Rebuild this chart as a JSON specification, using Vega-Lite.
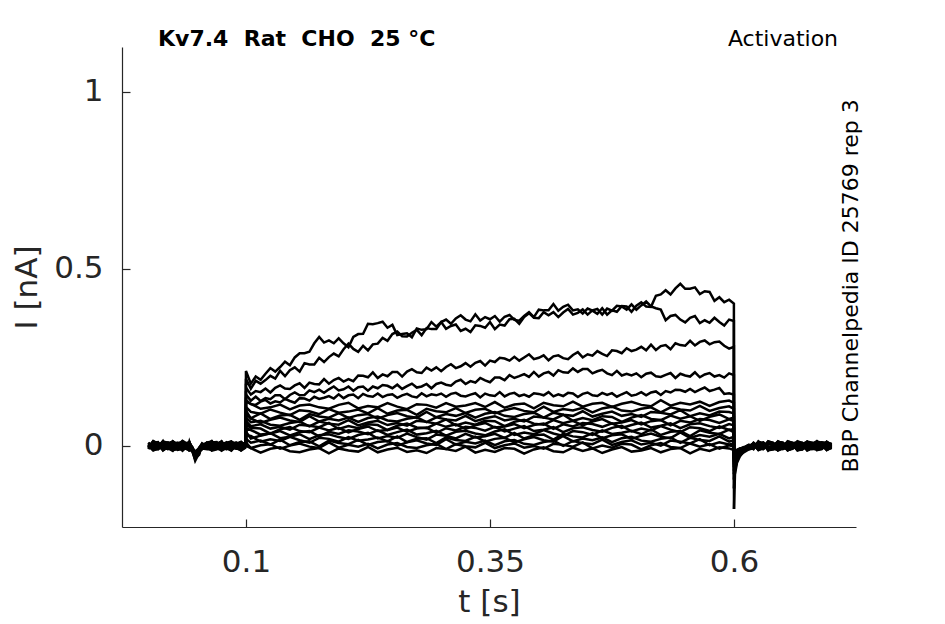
{
  "$schema": "https://vega.github.io/schema/vega-lite/v6.json",
  "width": 734,
  "height": 480,
  "autosize": {"type": "none"},
  "padding": {"left": 122, "top": 47, "right": 89, "bottom": 97},
  "background": "white",
  "datasets": {
    "pre": [
      {"t":0,"a":0.003,"b":-0.005,"c":0.008,"d":-0.002,"e":0,"f":0.006,"g":-0.009,"h":0.004,"i":-0.003,"j":0.01,"k":-0.006,"l":0.002,"m":-0.001,"n":0.007,"o":-0.008,"p":0.005,"q":-0.004,"r":0.001},
      {"t":0.005,"a":-0.009,"b":0.012,"c":-0.004,"d":0.007,"e":-0.013,"f":0.003,"g":0.01,"h":-0.006,"i":0.014,"j":-0.008,"k":0.005,"l":-0.011,"m":0.009,"n":-0.002,"o":0.013,"p":-0.01,"q":0.006,"r":-0.007},
      {"t":0.01,"a":-0.006,"b":0.004,"c":-0.002,"d":0.009,"e":-0.007,"f":0.001,"g":0.005,"h":-0.01,"i":0.007,"j":-0.003,"k":0.002,"l":-0.008,"m":0.011,"n":-0.005,"o":0.003,"p":-0.001,"q":0.008,"r":-0.006},
      {"t":0.015,"a":0.011,"b":-0.007,"c":0.013,"d":-0.01,"e":0.005,"f":-0.012,"g":0.008,"h":0.002,"i":-0.009,"j":0.014,"k":-0.004,"l":0.009,"m":-0.013,"n":0.006,"o":-0.001,"p":0.012,"q":-0.008,"r":0.01},
      {"t":0.02,"a":0.007,"b":-0.008,"c":0.003,"d":-0.004,"e":0.01,"f":-0.002,"g":-0.006,"h":0.005,"i":0,"j":-0.009,"k":0.008,"l":0.004,"m":-0.003,"n":0.001,"o":-0.007,"p":0.009,"q":-0.005,"r":0.002},
      {"t":0.025,"a":-0.01,"b":0.005,"c":-0.012,"d":0.013,"e":-0.003,"f":0.009,"g":-0.014,"h":0.011,"i":0.004,"j":-0.007,"k":0.012,"l":-0.005,"m":0.008,"n":-0.011,"o":0.006,"p":-0.002,"q":0.013,"r":-0.009},
      {"t":0.03,"a":-0.003,"b":0.006,"c":-0.009,"d":0.002,"e":-0.004,"f":0.008,"g":0.003,"h":-0.001,"i":-0.007,"j":0.005,"k":-0.011,"l":0.007,"m":0,"n":-0.006,"o":0.009,"p":-0.002,"q":0.004,"r":-0.008},
      {"t":0.035,"a":0.012,"b":-0.011,"c":0.006,"d":-0.005,"e":0.014,"f":-0.007,"g":0.004,"h":-0.013,"i":0.01,"j":0.002,"k":-0.009,"l":0.013,"m":-0.006,"n":0.011,"o":-0.012,"p":0.007,"q":-0.003,"r":0.008},
      {"t":0.04,"a":0.002,"b":-0.001,"c":0.005,"d":-0.007,"e":0.006,"f":-0.009,"g":0.001,"h":0.008,"i":-0.004,"j":0.003,"k":-0.002,"l":-0.006,"m":0.009,"n":0.004,"o":-0.003,"p":-0.01,"q":0.006,"r":0},
      {"t":0.042,"a":-0.007,"b":0.01,"c":-0.003,"d":0.008,"e":-0.011,"f":0.012,"g":-0.006,"h":0.005,"i":-0.013,"j":0.009,"k":0.001,"l":-0.008,"m":0.011,"n":-0.004,"o":0.007,"p":-0.012,"q":0.009,"r":-0.005},
      {"t":0.045,"a":-0.012,"b":-0.008,"c":-0.015,"d":-0.01,"e":-0.006,"f":-0.014,"g":-0.009,"h":-0.005,"i":-0.011,"j":-0.007,"k":-0.013,"l":-0.004,"m":-0.01,"n":-0.008,"o":-0.006,"p":-0.012,"q":-0.003,"r":-0.009},
      {"t":0.048,"a":-0.042,"b":-0.035,"c":-0.038,"d":-0.03,"e":-0.028,"f":-0.033,"g":-0.025,"h":-0.036,"i":-0.022,"j":-0.03,"k":-0.027,"l":-0.02,"m":-0.032,"n":-0.024,"o":-0.018,"p":-0.026,"q":-0.021,"r":-0.015},
      {"t":0.052,"a":-0.02,"b":-0.025,"c":-0.015,"d":-0.022,"e":-0.012,"f":-0.018,"g":-0.014,"h":-0.01,"i":-0.019,"j":-0.008,"k":-0.016,"l":-0.011,"m":-0.006,"n":-0.013,"o":-0.009,"p":-0.005,"q":-0.012,"r":-0.007},
      {"t":0.055,"a":-0.004,"b":0.003,"c":-0.008,"d":0.001,"e":-0.005,"f":0.006,"g":-0.002,"h":-0.009,"i":0.004,"j":-0.006,"k":0.002,"l":-0.003,"m":0.007,"n":-0.01,"o":0,"p":0.005,"q":-0.007,"r":0.003},
      {"t":0.06,"a":0.008,"b":-0.003,"c":0.002,"d":-0.006,"e":0.004,"f":-0.001,"g":0.009,"h":-0.004,"i":0.006,"j":0,"k":-0.008,"l":0.01,"m":-0.005,"n":0.003,"o":-0.002,"p":0.007,"q":-0.009,"r":0.005},
      {"t":0.065,"a":-0.011,"b":0.006,"c":0.012,"d":-0.009,"e":0.003,"f":-0.005,"g":0.013,"h":-0.008,"i":0.001,"j":0.01,"k":-0.012,"l":0.005,"m":-0.007,"n":0.014,"o":-0.006,"p":0.002,"q":0.011,"r":-0.013},
      {"t":0.07,"a":-0.005,"b":0.009,"c":-0.001,"d":0.006,"e":-0.008,"f":0.003,"g":-0.004,"h":0.007,"i":-0.002,"j":0.011,"k":0.005,"l":-0.007,"m":0.001,"n":-0.003,"o":0.008,"p":-0.006,"q":0.002,"r":-0.01},
      {"t":0.075,"a":0.009,"b":-0.013,"c":0.004,"d":0.011,"e":-0.006,"f":0.013,"g":-0.002,"h":0.01,"i":-0.011,"j":-0.005,"k":0.008,"l":-0.012,"m":0.012,"n":-0.008,"o":0.003,"p":0.01,"q":-0.006,"r":0.007},
      {"t":0.08,"a":0.004,"b":-0.006,"c":0.01,"d":-0.003,"e":0.007,"f":-0.008,"g":0.002,"h":-0.005,"i":0.009,"j":-0.001,"k":-0.004,"l":0.006,"m":-0.009,"n":0.008,"o":-0.005,"p":0.001,"q":0.007,"r":-0.002},
      {"t":0.085,"a":-0.006,"b":0.011,"c":-0.01,"d":0.002,"e":0.012,"f":-0.009,"g":0.007,"h":-0.012,"i":0.013,"j":-0.002,"k":-0.01,"l":0.008,"m":-0.004,"n":0.009,"o":-0.013,"p":0.005,"q":0.003,"r":-0.011},
      {"t":0.09,"a":-0.002,"b":0.007,"c":-0.005,"d":0.008,"e":-0.001,"f":0.004,"g":-0.007,"h":0.003,"i":-0.006,"j":0.006,"k":0.009,"l":-0.002,"m":0.004,"n":-0.008,"o":0.002,"p":-0.004,"q":-0.001,"r":0.009},
      {"t":0.095,"a":0.008,"b":-0.004,"c":0.009,"d":-0.012,"e":0.006,"f":0.01,"g":-0.011,"h":0.007,"i":-0.005,"j":0.012,"k":0.003,"l":-0.009,"m":0.01,"n":-0.007,"o":0.004,"p":-0.013,"q":0.008,"r":0.006},
      {"t":0.0999,"a":0.002,"b":-0.003,"c":0.004,"d":-0.001,"e":0.003,"f":0.001,"g":-0.002,"h":0.003,"i":0,"j":-0.003,"k":0.002,"l":-0.001,"m":0.004,"n":-0.002,"o":0.001,"p":-0.004,"q":0.002,"r":-0.001}
    ],
    "hi": [
      {"t":0.0999,"a":0.002,"b":-0.003,"c":0.004,"d":-0.001,"e":0.003},
      {"t":0.1,"a":0.212,"b":0.19,"c":0.165,"d":0.145,"e":0.13},
      {"t":0.105,"a":0.176,"b":0.162,"c":0.145,"d":0.128,"e":0.118},
      {"t":0.11,"a":0.196,"b":0.184,"c":0.155,"d":0.139,"e":0.116},
      {"t":0.115,"a":0.187,"b":0.176,"c":0.152,"d":0.127,"e":0.125},
      {"t":0.12,"a":0.204,"b":0.186,"c":0.162,"d":0.135,"e":0.13},
      {"t":0.125,"a":0.22,"b":0.198,"c":0.151,"d":0.132,"e":0.12},
      {"t":0.13,"a":0.21,"b":0.19,"c":0.164,"d":0.143,"e":0.126},
      {"t":0.135,"a":0.223,"b":0.212,"c":0.171,"d":0.143,"e":0.123},
      {"t":0.14,"a":0.238,"b":0.197,"c":0.162,"d":0.132,"e":0.133},
      {"t":0.145,"a":0.228,"b":0.214,"c":0.161,"d":0.144,"e":0.127},
      {"t":0.15,"a":0.25,"b":0.222,"c":0.171,"d":0.151,"e":0.122},
      {"t":0.155,"a":0.262,"b":0.21,"c":0.177,"d":0.143,"e":0.135},
      {"t":0.16,"a":0.262,"b":0.234,"c":0.164,"d":0.144,"e":0.134},
      {"t":0.165,"a":0.266,"b":0.23,"c":0.179,"d":0.157,"e":0.128},
      {"t":0.17,"a":0.29,"b":0.23,"c":0.175,"d":0.152,"e":0.139},
      {"t":0.175,"a":0.308,"b":0.249,"c":0.174,"d":0.159,"e":0.133},
      {"t":0.18,"a":0.292,"b":0.237,"c":0.189,"d":0.15,"e":0.136},
      {"t":0.185,"a":0.298,"b":0.251,"c":0.176,"d":0.16,"e":0.141},
      {"t":0.19,"a":0.29,"b":0.261,"c":0.186,"d":0.168,"e":0.134},
      {"t":0.195,"a":0.304,"b":0.253,"c":0.192,"d":0.157,"e":0.146},
      {"t":0.2,"a":0.29,"b":0.273,"c":0.182,"d":0.16,"e":0.135},
      {"t":0.205,"a":0.279,"b":0.289,"c":0.189,"d":0.168,"e":0.143},
      {"t":0.21,"a":0.308,"b":0.274,"c":0.183,"d":0.156,"e":0.145},
      {"t":0.215,"a":0.316,"b":0.266,"c":0.199,"d":0.166,"e":0.135},
      {"t":0.22,"a":0.317,"b":0.283,"c":0.198,"d":0.168,"e":0.147},
      {"t":0.225,"a":0.345,"b":0.27,"c":0.194,"d":0.156,"e":0.141},
      {"t":0.23,"a":0.344,"b":0.287,"c":0.208,"d":0.168,"e":0.139},
      {"t":0.235,"a":0.347,"b":0.289,"c":0.192,"d":0.163,"e":0.148},
      {"t":0.24,"a":0.351,"b":0.305,"c":0.202,"d":0.172,"e":0.138},
      {"t":0.245,"a":0.334,"b":0.297,"c":0.197,"d":0.17,"e":0.144},
      {"t":0.25,"a":0.342,"b":0.316,"c":0.209,"d":0.163,"e":0.146},
      {"t":0.255,"a":0.313,"b":0.323,"c":0.209,"d":0.173,"e":0.136},
      {"t":0.26,"a":0.316,"b":0.31,"c":0.196,"d":0.161,"e":0.143},
      {"t":0.265,"a":0.318,"b":0.309,"c":0.21,"d":0.169,"e":0.147},
      {"t":0.27,"a":0.307,"b":0.32,"c":0.217,"d":0.176,"e":0.14},
      {"t":0.275,"a":0.332,"b":0.328,"c":0.208,"d":0.165,"e":0.137},
      {"t":0.28,"a":0.328,"b":0.313,"c":0.206,"d":0.168,"e":0.149},
      {"t":0.285,"a":0.33,"b":0.333,"c":0.221,"d":0.175,"e":0.14},
      {"t":0.29,"a":0.35,"b":0.33,"c":0.213,"d":0.163,"e":0.146},
      {"t":0.295,"a":0.337,"b":0.33,"c":0.222,"d":0.175,"e":0.143},
      {"t":0.3,"a":0.35,"b":0.35,"c":0.211,"d":0.179,"e":0.148},
      {"t":0.305,"a":0.357,"b":0.331,"c":0.223,"d":0.173,"e":0.139},
      {"t":0.31,"a":0.345,"b":0.339,"c":0.231,"d":0.17,"e":0.147},
      {"t":0.315,"a":0.36,"b":0.343,"c":0.22,"d":0.182,"e":0.15},
      {"t":0.32,"a":0.369,"b":0.325,"c":0.225,"d":0.187,"e":0.142},
      {"t":0.325,"a":0.357,"b":0.331,"c":0.234,"d":0.175,"e":0.14},
      {"t":0.33,"a":0.352,"b":0.322,"c":0.224,"d":0.183,"e":0.145},
      {"t":0.335,"a":0.372,"b":0.341,"c":0.235,"d":0.179,"e":0.149},
      {"t":0.34,"a":0.354,"b":0.339,"c":0.24,"d":0.192,"e":0.137},
      {"t":0.345,"a":0.364,"b":0.334,"c":0.227,"d":0.185,"e":0.148},
      {"t":0.35,"a":0.358,"b":0.35,"c":0.241,"d":0.18,"e":0.143},
      {"t":0.355,"a":0.367,"b":0.33,"c":0.237,"d":0.193,"e":0.141},
      {"t":0.36,"a":0.351,"b":0.343,"c":0.249,"d":0.193,"e":0.152},
      {"t":0.365,"a":0.365,"b":0.34,"c":0.247,"d":0.186,"e":0.14},
      {"t":0.37,"a":0.37,"b":0.358,"c":0.241,"d":0.2,"e":0.147},
      {"t":0.375,"a":0.356,"b":0.359,"c":0.252,"d":0.192,"e":0.15},
      {"t":0.38,"a":0.354,"b":0.345,"c":0.241,"d":0.197,"e":0.141},
      {"t":0.385,"a":0.367,"b":0.364,"c":0.25,"d":0.203,"e":0.145},
      {"t":0.39,"a":0.378,"b":0.375,"c":0.259,"d":0.195,"e":0.139},
      {"t":0.395,"a":0.364,"b":0.362,"c":0.245,"d":0.209,"e":0.149},
      {"t":0.4,"a":0.385,"b":0.361,"c":0.249,"d":0.196,"e":0.147},
      {"t":0.405,"a":0.383,"b":0.378,"c":0.256,"d":0.205,"e":0.143},
      {"t":0.41,"a":0.383,"b":0.369,"c":0.242,"d":0.209,"e":0.152},
      {"t":0.415,"a":0.401,"b":0.378,"c":0.253,"d":0.199,"e":0.14},
      {"t":0.42,"a":0.382,"b":0.364,"c":0.256,"d":0.214,"e":0.146},
      {"t":0.425,"a":0.393,"b":0.377,"c":0.248,"d":0.208,"e":0.141},
      {"t":0.43,"a":0.399,"b":0.387,"c":0.245,"d":0.207,"e":0.15},
      {"t":0.435,"a":0.383,"b":0.371,"c":0.257,"d":0.219,"e":0.148},
      {"t":0.44,"a":0.386,"b":0.376,"c":0.265,"d":0.209,"e":0.138},
      {"t":0.445,"a":0.374,"b":0.386,"c":0.25,"d":0.217,"e":0.147},
      {"t":0.45,"a":0.388,"b":0.371,"c":0.259,"d":0.217,"e":0.151},
      {"t":0.455,"a":0.382,"b":0.383,"c":0.255,"d":0.205,"e":0.143},
      {"t":0.46,"a":0.373,"b":0.387,"c":0.268,"d":0.211,"e":0.141},
      {"t":0.465,"a":0.389,"b":0.371,"c":0.26,"d":0.215,"e":0.15},
      {"t":0.47,"a":0.371,"b":0.388,"c":0.254,"d":0.205,"e":0.144},
      {"t":0.475,"a":0.383,"b":0.382,"c":0.27,"d":0.2,"e":0.149},
      {"t":0.48,"a":0.379,"b":0.396,"c":0.268,"d":0.212,"e":0.139},
      {"t":0.485,"a":0.395,"b":0.394,"c":0.262,"d":0.199,"e":0.146},
      {"t":0.49,"a":0.394,"b":0.385,"c":0.276,"d":0.204,"e":0.152},
      {"t":0.495,"a":0.379,"b":0.4,"c":0.268,"d":0.199,"e":0.142},
      {"t":0.5,"a":0.396,"b":0.385,"c":0.272,"d":0.205,"e":0.145},
      {"t":0.505,"a":0.406,"b":0.397,"c":0.28,"d":0.194,"e":0.152},
      {"t":0.51,"a":0.394,"b":0.408,"c":0.27,"d":0.204,"e":0.143},
      {"t":0.515,"a":0.393,"b":0.394,"c":0.286,"d":0.207,"e":0.151},
      {"t":0.52,"a":0.424,"b":0.389,"c":0.271,"d":0.197,"e":0.154},
      {"t":0.525,"a":0.428,"b":0.385,"c":0.282,"d":0.195,"e":0.144},
      {"t":0.53,"a":0.44,"b":0.355,"c":0.285,"d":0.201,"e":0.155},
      {"t":0.535,"a":0.428,"b":0.367,"c":0.273,"d":0.206,"e":0.151},
      {"t":0.54,"a":0.445,"b":0.37,"c":0.29,"d":0.192,"e":0.159},
      {"t":0.545,"a":0.458,"b":0.357,"c":0.285,"d":0.204,"e":0.158},
      {"t":0.55,"a":0.444,"b":0.349,"c":0.283,"d":0.199,"e":0.153},
      {"t":0.555,"a":0.444,"b":0.362,"c":0.297,"d":0.196,"e":0.161},
      {"t":0.56,"a":0.448,"b":0.367,"c":0.284,"d":0.208,"e":0.152},
      {"t":0.565,"a":0.429,"b":0.347,"c":0.294,"d":0.194,"e":0.159},
      {"t":0.57,"a":0.437,"b":0.355,"c":0.298,"d":0.202,"e":0.165},
      {"t":0.575,"a":0.435,"b":0.348,"c":0.287,"d":0.206,"e":0.155},
      {"t":0.58,"a":0.41,"b":0.362,"c":0.293,"d":0.196,"e":0.159},
      {"t":0.585,"a":0.42,"b":0.35,"c":0.295,"d":0.2,"e":0.164},
      {"t":0.59,"a":0.406,"b":0.34,"c":0.283,"d":0.193,"e":0.147},
      {"t":0.595,"a":0.413,"b":0.357,"c":0.275,"d":0.205,"e":0.149},
      {"t":0.5999,"a":0.402,"b":0.353,"c":0.28,"d":0.2,"e":0.145},
      {"t":0.6,"a":-0.178,"b":-0.12,"c":-0.095,"d":-0.08,"e":-0.07}
    ],
    "lo": [
      {"t":0.0999,"f":0.001,"g":-0.002,"h":0.003,"i":0,"j":-0.003,"k":0.002,"l":-0.001,"m":0.004,"n":-0.002,"o":0.001,"p":-0.004,"q":0.002,"r":-0.001},
      {"t":0.1,"f":0.125,"g":0.11,"h":0.1,"i":0.09,"j":0.08,"k":0.07,"l":0.06,"m":0.05,"n":0.04,"o":0.03,"p":0.02,"q":0.01,"r":0},
      {"t":0.105,"f":0.119,"g":0.096,"h":0.078,"i":0.078,"j":0.067,"k":0.056,"l":0.051,"m":0.045,"n":0.021,"o":0.028,"p":0.009,"q":-0.006,"r":-0.006},
      {"t":0.115,"f":0.105,"g":0.091,"h":0.092,"i":0.065,"j":0.071,"k":0.061,"l":0.049,"m":0.032,"n":0.029,"o":0.012,"p":0.015,"q":0.002,"r":-0.019},
      {"t":0.125,"f":0.109,"g":0.103,"h":0.076,"i":0.074,"j":0.06,"k":0.049,"l":0.035,"m":0.035,"n":0.036,"o":0.019,"p":0.004,"q":0.005,"r":-0.008},
      {"t":0.135,"f":0.117,"g":0.094,"h":0.086,"i":0.08,"j":0.057,"k":0.054,"l":0.047,"m":0.042,"n":0.022,"o":0.014,"p":0.018,"q":-0.008,"r":-0.004},
      {"t":0.145,"f":0.103,"g":0.087,"h":0.088,"i":0.072,"j":0.065,"k":0.046,"l":0.053,"m":0.03,"n":0.026,"o":0.026,"p":0.002,"q":0.001,"r":-0.015},
      {"t":0.155,"f":0.114,"g":0.101,"h":0.074,"i":0.068,"j":0.069,"k":0.06,"l":0.042,"m":0.039,"n":0.033,"o":0.016,"p":0.011,"q":0.007,"r":-0.018},
      {"t":0.165,"f":0.117,"g":0.098,"h":0.09,"i":0.084,"j":0.055,"k":0.057,"l":0.039,"m":0.042,"n":0.019,"o":0.009,"p":0.013,"q":-0.002,"r":-0.01},
      {"t":0.175,"f":0.109,"g":0.09,"h":0.083,"i":0.069,"j":0.069,"k":0.053,"l":0.052,"m":0.027,"n":0.03,"o":0.023,"p":-0.001,"q":-0.006,"r":-0.006},
      {"t":0.185,"f":0.105,"g":0.104,"h":0.08,"i":0.077,"j":0.063,"k":0.065,"l":0.044,"m":0.04,"n":0.033,"o":0.02,"p":0.015,"q":0.01,"r":-0.021},
      {"t":0.195,"f":0.116,"g":0.094,"h":0.093,"i":0.072,"j":0.06,"k":0.048,"l":0.051,"m":0.034,"n":0.025,"o":0.012,"p":0.008,"q":-0.005,"r":-0.007},
      {"t":0.205,"f":0.122,"g":0.097,"h":0.079,"i":0.08,"j":0.073,"k":0.056,"l":0.038,"m":0.044,"n":0.02,"o":0.025,"p":0.005,"q":0.003,"r":-0.013},
      {"t":0.215,"f":0.106,"g":0.103,"h":0.087,"i":0.068,"j":0.058,"k":0.05,"l":0.048,"m":0.041,"n":0.031,"o":0.015,"p":0.017,"q":-0.002,"r":-0.016},
      {"t":0.225,"f":0.113,"g":0.092,"h":0.09,"i":0.079,"j":0.066,"k":0.061,"l":0.055,"m":0.033,"n":0.037,"o":0.018,"p":0.003,"q":0.006,"r":-0.003},
      {"t":0.235,"f":0.109,"g":0.107,"h":0.077,"i":0.083,"j":0.071,"k":0.059,"l":0.042,"m":0.044,"n":0.021,"o":0.024,"p":0.011,"q":-0.007,"r":-0.018},
      {"t":0.245,"f":0.121,"g":0.091,"h":0.087,"i":0.072,"j":0.059,"k":0.045,"l":0.045,"m":0.031,"n":0.028,"o":0.013,"p":0.014,"q":0.004,"r":-0.01},
      {"t":0.255,"f":0.111,"g":0.1,"h":0.093,"i":0.069,"j":0.065,"k":0.057,"l":0.052,"m":0.039,"n":0.023,"o":0.027,"p":0.001,"q":0.008,"r":-0.005},
      {"t":0.265,"f":0.104,"g":0.102,"h":0.084,"i":0.077,"j":0.057,"k":0.063,"l":0.04,"m":0.046,"n":0.035,"o":0.011,"p":0.01,"q":-0.003,"r":-0.017},
      {"t":0.275,"f":0.118,"g":0.088,"h":0.08,"i":0.081,"j":0.071,"k":0.052,"l":0.049,"m":0.032,"n":0.025,"o":0.02,"p":0.016,"q":-0.006,"r":-0.012},
      {"t":0.285,"f":0.116,"g":0.105,"h":0.096,"i":0.067,"j":0.068,"k":0.05,"l":0.052,"m":0.036,"n":0.018,"o":0.022,"p":0.007,"q":0.002,"r":-0.02},
      {"t":0.295,"f":0.108,"g":0.098,"h":0.081,"i":0.081,"j":0.063,"k":0.063,"l":0.037,"m":0.043,"n":0.032,"o":0.008,"p":0.003,"q":0.006,"r":-0.006},
      {"t":0.305,"f":0.121,"g":0.095,"h":0.09,"i":0.075,"j":0.075,"k":0.054,"l":0.05,"m":0.029,"n":0.029,"o":0.024,"p":0.019,"q":-0.009,"r":-0.009},
      {"t":0.315,"f":0.111,"g":0.107,"h":0.085,"i":0.072,"j":0.058,"k":0.061,"l":0.044,"m":0.04,"n":0.021,"o":0.017,"p":0.004,"q":0.005,"r":-0.014},
      {"t":0.325,"f":0.114,"g":0.093,"h":0.093,"i":0.085,"j":0.066,"k":0.048,"l":0.054,"m":0.043,"n":0.034,"o":0.014,"p":0.012,"q":-0.001,"r":-0.002},
      {"t":0.335,"f":0.121,"g":0.102,"h":0.08,"i":0.07,"j":0.06,"k":0.058,"l":0.051,"m":0.035,"n":0.024,"o":0.026,"p":0.007,"q":-0.004,"r":-0.019},
      {"t":0.345,"f":0.11,"g":0.105,"h":0.091,"i":0.078,"j":0.071,"k":0.065,"l":0.043,"m":0.03,"n":0.027,"o":0.012,"p":0.015,"q":0.009,"r":-0.011},
      {"t":0.355,"f":0.124,"g":0.092,"h":0.096,"i":0.084,"j":0.07,"k":0.052,"l":0.054,"m":0.041,"n":0.034,"o":0.02,"p":0.002,"q":-0.006,"r":-0.017},
      {"t":0.365,"f":0.108,"g":0.101,"h":0.085,"i":0.072,"j":0.056,"k":0.055,"l":0.041,"m":0.047,"n":0.023,"o":0.023,"p":0.013,"q":0.002,"r":-0.006},
      {"t":0.375,"f":0.117,"g":0.107,"h":0.082,"i":0.077,"j":0.068,"k":0.062,"l":0.049,"m":0.031,"n":0.037,"o":0.01,"p":0.017,"q":0.007,"r":-0.008},
      {"t":0.385,"f":0.12,"g":0.099,"h":0.09,"i":0.069,"j":0.074,"k":0.05,"l":0.056,"m":0.038,"n":0.021,"o":0.019,"p":0.006,"q":-0.005,"r":-0.022},
      {"t":0.395,"f":0.106,"g":0.095,"h":0.094,"i":0.083,"j":0.063,"k":0.059,"l":0.042,"m":0.033,"n":0.03,"o":0.025,"p":0.003,"q":0,"r":-0.01},
      {"t":0.405,"f":0.122,"g":0.111,"h":0.08,"i":0.08,"j":0.06,"k":0.063,"l":0.046,"m":0.045,"n":0.032,"o":0.016,"p":0.011,"q":-0.008,"r":-0.004},
      {"t":0.415,"f":0.115,"g":0.096,"h":0.094,"i":0.075,"j":0.073,"k":0.048,"l":0.053,"m":0.035,"n":0.018,"o":0.012,"p":0.015,"q":0.006,"r":-0.015},
      {"t":0.425,"f":0.112,"g":0.104,"h":0.088,"i":0.088,"j":0.064,"k":0.061,"l":0.039,"m":0.028,"n":0.034,"o":0.028,"p":0,"q":0.003,"r":-0.018},
      {"t":0.435,"f":0.125,"g":0.1,"h":0.085,"i":0.071,"j":0.071,"k":0.055,"l":0.05,"m":0.042,"n":0.027,"o":0.013,"p":0.014,"q":-0.002,"r":-0.005},
      {"t":0.445,"f":0.111,"g":0.108,"h":0.098,"i":0.079,"j":0.058,"k":0.065,"l":0.053,"m":0.039,"n":0.024,"o":0.021,"p":0.008,"q":0.01,"r":-0.014},
      {"t":0.455,"f":0.119,"g":0.095,"h":0.083,"i":0.073,"j":0.069,"k":0.062,"l":0.045,"m":0.031,"n":0.036,"o":0.016,"p":0.005,"q":-0.007,"r":-0.007},
      {"t":0.465,"f":0.122,"g":0.106,"h":0.091,"i":0.084,"j":0.076,"k":0.054,"l":0.04,"m":0.044,"n":0.022,"o":0.024,"p":0.018,"q":0.001,"r":-0.02},
      {"t":0.475,"f":0.11,"g":0.111,"h":0.097,"i":0.082,"j":0.063,"k":0.064,"l":0.051,"m":0.034,"n":0.03,"o":0.011,"p":0.003,"q":-0.005,"r":-0.01},
      {"t":0.485,"f":0.119,"g":0.1,"h":0.085,"i":0.068,"j":0.066,"k":0.051,"l":0.057,"m":0.037,"n":0.033,"o":0.022,"p":0.011,"q":0.006,"r":-0.003},
      {"t":0.495,"f":0.125,"g":0.097,"h":0.09,"i":0.08,"j":0.073,"k":0.059,"l":0.041,"m":0.043,"n":0.02,"o":0.026,"p":0.016,"q":0.004,"r":-0.016},
      {"t":0.505,"f":0.116,"g":0.105,"h":0.082,"i":0.087,"j":0.061,"k":0.066,"l":0.049,"m":0.033,"n":0.029,"o":0.015,"p":0.004,"q":-0.01,"r":-0.013},
      {"t":0.515,"f":0.112,"g":0.109,"h":0.096,"i":0.076,"j":0.07,"k":0.052,"l":0.044,"m":0.047,"n":0.035,"o":0.012,"p":0.009,"q":0.002,"r":-0.006},
      {"t":0.525,"f":0.129,"g":0.095,"h":0.094,"i":0.073,"j":0.073,"k":0.057,"l":0.056,"m":0.031,"n":0.026,"o":0.02,"p":0.001,"q":0.008,"r":-0.018},
      {"t":0.535,"f":0.114,"g":0.109,"h":0.089,"i":0.086,"j":0.058,"k":0.064,"l":0.046,"m":0.04,"n":0.022,"o":0.024,"p":0.015,"q":-0.003,"r":-0.009},
      {"t":0.545,"f":0.122,"g":0.103,"h":0.101,"i":0.077,"j":0.071,"k":0.05,"l":0.039,"m":0.042,"n":0.038,"o":0.009,"p":0.012,"q":-0.006,"r":-0.006},
      {"t":0.555,"f":0.117,"g":0.1,"h":0.084,"i":0.084,"j":0.066,"k":0.061,"l":0.053,"m":0.028,"n":0.023,"o":0.023,"p":0.007,"q":0.007,"r":-0.021},
      {"t":0.565,"f":0.125,"g":0.113,"h":0.092,"i":0.071,"j":0.076,"k":0.064,"l":0.05,"m":0.044,"n":0.031,"o":0.017,"p":0.019,"q":-0.002,"r":-0.008},
      {"t":0.575,"f":0.113,"g":0.099,"h":0.086,"i":0.082,"j":0.073,"k":0.056,"l":0.042,"m":0.037,"n":0.026,"o":0.014,"p":0.002,"q":0.005,"r":-0.014},
      {"t":0.585,"f":0.124,"g":0.107,"h":0.097,"i":0.089,"j":0.065,"k":0.051,"l":0.055,"m":0.034,"n":0.034,"o":0.027,"p":0.01,"q":-0.008,"r":-0.004},
      {"t":0.595,"f":0.128,"g":0.112,"h":0.096,"i":0.076,"j":0.075,"k":0.062,"l":0.045,"m":0.046,"n":0.021,"o":0.012,"p":0.004,"q":0.002,"r":-0.007},
      {"t":0.5999,"f":0.122,"g":0.105,"h":0.092,"i":0.08,"j":0.07,"k":0.058,"l":0.048,"m":0.038,"n":0.026,"o":0.016,"p":0.006,"q":-0.002,"r":-0.012},
      {"t":0.6,"f":-0.06,"g":-0.055,"h":-0.05,"i":-0.045,"j":-0.042,"k":-0.038,"l":-0.035,"m":-0.032,"n":-0.03,"o":-0.028,"p":-0.025,"q":-0.022,"r":-0.02}
    ],
    "post": [
      {"t":0.6,"a":-0.178,"b":-0.12,"c":-0.095,"d":-0.08,"e":-0.07,"f":-0.06,"g":-0.055,"h":-0.05,"i":-0.045,"j":-0.042,"k":-0.038,"l":-0.035,"m":-0.032,"n":-0.03,"o":-0.028,"p":-0.025,"q":-0.022,"r":-0.02},
      {"t":0.601,"a":-0.08,"b":-0.07,"c":-0.062,"d":-0.055,"e":-0.05,"f":-0.045,"g":-0.042,"h":-0.038,"i":-0.035,"j":-0.033,"k":-0.03,"l":-0.028,"m":-0.026,"n":-0.024,"o":-0.022,"p":-0.02,"q":-0.018,"r":-0.016},
      {"t":0.603,"a":-0.048,"b":-0.042,"c":-0.04,"d":-0.035,"e":-0.033,"f":-0.03,"g":-0.028,"h":-0.026,"i":-0.024,"j":-0.022,"k":-0.02,"l":-0.019,"m":-0.017,"n":-0.016,"o":-0.015,"p":-0.013,"q":-0.012,"r":-0.011},
      {"t":0.606,"a":-0.03,"b":-0.027,"c":-0.025,"d":-0.022,"e":-0.021,"f":-0.019,"g":-0.018,"h":-0.016,"i":-0.015,"j":-0.014,"k":-0.013,"l":-0.012,"m":-0.011,"n":-0.01,"o":-0.009,"p":-0.008,"q":-0.008,"r":-0.007},
      {"t":0.61,"a":-0.015,"b":-0.018,"c":-0.012,"d":-0.014,"e":-0.01,"f":-0.013,"g":-0.009,"h":-0.011,"i":-0.008,"j":-0.01,"k":-0.006,"l":-0.009,"m":-0.005,"n":-0.007,"o":-0.004,"p":-0.006,"q":-0.003,"r":-0.005},
      {"t":0.615,"a":-0.006,"b":-0.01,"c":-0.003,"d":-0.008,"e":-0.001,"f":-0.007,"g":-0.004,"h":-0.002,"i":-0.009,"j":0,"k":-0.005,"l":0.001,"m":-0.006,"n":-0.003,"o":0.002,"p":-0.004,"q":-0.007,"r":0.003},
      {"t":0.62,"a":0.004,"b":-0.006,"c":0.007,"d":-0.003,"e":0.001,"f":-0.008,"g":0.005,"h":-0.002,"i":0.009,"j":-0.005,"k":0.003,"l":-0.009,"m":0.006,"n":0,"o":-0.004,"p":0.008,"q":-0.001,"r":0.002},
      {"t":0.625,"a":-0.01,"b":0.009,"c":-0.003,"d":0.012,"e":-0.008,"f":0.005,"g":-0.012,"h":0.007,"i":-0.001,"j":0.011,"k":-0.006,"l":0.013,"m":-0.009,"n":0.003,"o":0.01,"p":-0.011,"q":0.004,"r":-0.005},
      {"t":0.63,"a":-0.005,"b":0.008,"c":-0.002,"d":0.006,"e":-0.009,"f":0.003,"g":-0.004,"h":0.01,"i":-0.001,"j":0.005,"k":-0.007,"l":0.002,"m":-0.003,"n":0.007,"o":0.001,"p":-0.006,"q":0.009,"r":-0.008},
      {"t":0.635,"a":0.012,"b":-0.006,"c":0.01,"d":-0.011,"e":0.004,"f":-0.009,"g":0.013,"h":-0.003,"i":0.008,"j":-0.012,"k":0.009,"l":-0.004,"m":0.011,"n":-0.01,"o":-0.002,"p":0.007,"q":-0.013,"r":0.009},
      {"t":0.64,"a":0.009,"b":-0.003,"c":0.005,"d":-0.007,"e":0.004,"f":-0.001,"g":0.008,"h":-0.005,"i":0.002,"j":-0.01,"k":0.006,"l":0,"m":0.007,"n":-0.004,"o":-0.008,"p":0.003,"q":-0.002,"r":0.005},
      {"t":0.645,"a":-0.005,"b":0.013,"c":-0.009,"d":0.006,"e":-0.012,"f":0.011,"g":-0.001,"h":0.01,"i":-0.013,"j":0.003,"k":-0.008,"l":0.012,"m":-0.006,"n":0.008,"o":-0.011,"p":0.002,"q":0.01,"r":-0.007},
      {"t":0.65,"a":-0.002,"b":0.006,"c":-0.008,"d":0.003,"e":-0.005,"f":0.01,"g":-0.003,"h":0.001,"i":-0.007,"j":0.004,"k":-0.001,"l":0.008,"m":-0.006,"n":0.002,"o":0.005,"p":-0.009,"q":0.006,"r":-0.004},
      {"t":0.655,"a":0.01,"b":-0.012,"c":0.005,"d":-0.004,"e":0.013,"f":-0.007,"g":0.009,"h":-0.011,"i":0.006,"j":-0.009,"k":0.012,"l":-0.002,"m":0.004,"n":-0.013,"o":0.008,"p":-0.005,"q":-0.003,"r":0.011},
      {"t":0.66,"a":0.006,"b":-0.007,"c":0.001,"d":-0.002,"e":0.008,"f":-0.005,"g":0.004,"h":-0.008,"i":0.005,"j":-0.003,"k":0.009,"l":-0.004,"m":0.002,"n":-0.006,"o":0,"p":0.007,"q":-0.005,"r":0.001},
      {"t":0.665,"a":-0.013,"b":0.007,"c":-0.011,"d":0.01,"e":-0.002,"f":0.012,"g":-0.008,"h":0.004,"i":-0.01,"j":0.013,"k":-0.004,"l":0.009,"m":-0.012,"n":0.005,"o":-0.007,"p":0.011,"q":0.006,"r":-0.009},
      {"t":0.67,"a":-0.007,"b":0.002,"c":-0.004,"d":0.009,"e":-0.001,"f":0.006,"g":-0.009,"h":0.003,"i":-0.002,"j":0.008,"k":-0.005,"l":0.004,"m":-0.01,"n":0.005,"o":-0.003,"p":0.001,"q":0.003,"r":-0.006},
      {"t":0.675,"a":0.006,"b":-0.01,"c":0.012,"d":-0.008,"e":0.009,"f":-0.003,"g":0.011,"h":-0.012,"i":0.007,"j":-0.006,"k":0.01,"l":-0.013,"m":0.003,"n":0.012,"o":-0.009,"p":-0.004,"q":0.008,"r":0.005},
      {"t":0.68,"a":0.003,"b":-0.005,"c":0.009,"d":-0.004,"e":0.006,"f":-0.002,"g":0.001,"h":-0.006,"i":0.008,"j":-0.001,"k":0.004,"l":-0.007,"m":0.005,"n":-0.009,"o":0.007,"p":-0.003,"q":-0.008,"r":0.002},
      {"t":0.685,"a":-0.008,"b":0.011,"c":-0.007,"d":0.013,"e":-0.01,"f":0.008,"g":-0.005,"h":0.012,"i":-0.003,"j":0.009,"k":-0.012,"l":0.006,"m":-0.011,"n":-0.001,"o":0.013,"p":-0.008,"q":-0.01,"r":0.004},
      {"t":0.69,"a":-0.004,"b":0.007,"c":-0.006,"d":0.002,"e":-0.008,"f":0.005,"g":-0.001,"h":0.009,"i":-0.005,"j":0.003,"k":-0.009,"l":0.006,"m":-0.002,"n":0.004,"o":-0.006,"p":0.01,"q":0.001,"r":-0.003},
      {"t":0.695,"a":0.007,"b":-0.009,"c":0.003,"d":-0.006,"e":0.011,"f":-0.012,"g":0.009,"h":-0.004,"i":0.012,"j":-0.01,"k":0.005,"l":-0.007,"m":0.008,"n":-0.011,"o":0.002,"p":0.009,"q":-0.005,"r":-0.008},
      {"t":0.7,"a":0.001,"b":-0.002,"c":0.003,"d":-0.005,"e":0.002,"f":-0.004,"g":0.006,"h":-0.001,"i":0.003,"j":-0.006,"k":0.001,"l":-0.003,"m":0.004,"n":-0.002,"o":0.005,"p":-0.001,"q":-0.004,"r":0.002}
    ]
  },
  "layer": [
    {
      "data": {"name": "pre"},
      "transform": [{"fold": ["a","b","c","d","e","f","g","h","i","j","k","l","m","n","o","p","q","r"], "as": ["trace", "cur"]}],
      "mark": {"type": "line", "color": "black", "strokeWidth": 2.5},
      "encoding": {
        "x": {
          "field": "t",
          "type": "quantitative",
          "scale": {"domain": [-0.027, 0.725], "nice": false, "zero": false},
          "axis": {"values": [0.1, 0.35, 0.6], "title": "t [s]", "labelExpr": "datum.value + ''", "labelPadding": 28, "titlePadding": 10}
        },
        "y": {
          "field": "cur",
          "type": "quantitative",
          "scale": {"domain": [-0.229, 1.127], "nice": false, "zero": false},
          "axis": {"values": [0, 0.5, 1], "title": "I [nA]", "labelExpr": "datum.value + ''", "labelPadding": 27, "titlePadding": 10}
        },
        "detail": {"field": "trace"}
      }
    },
    {
      "data": {"name": "hi"},
      "transform": [{"fold": ["a","b","c","d","e"], "as": ["trace", "cur"]}],
      "mark": {"type": "line", "color": "black", "strokeWidth": 2.5},
      "encoding": {
        "x": {"field": "t", "type": "quantitative"},
        "y": {"field": "cur", "type": "quantitative"},
        "detail": {"field": "trace"}
      }
    },
    {
      "data": {"name": "lo"},
      "transform": [{"fold": ["f","g","h","i","j","k","l","m","n","o","p","q","r"], "as": ["trace", "cur"]}],
      "mark": {"type": "line", "color": "black", "strokeWidth": 2.5},
      "encoding": {
        "x": {"field": "t", "type": "quantitative"},
        "y": {"field": "cur", "type": "quantitative"},
        "detail": {"field": "trace"}
      }
    },
    {
      "data": {"name": "post"},
      "transform": [{"fold": ["a","b","c","d","e","f","g","h","i","j","k","l","m","n","o","p","q","r"], "as": ["trace", "cur"]}],
      "mark": {"type": "line", "color": "black", "strokeWidth": 2.5},
      "encoding": {
        "x": {"field": "t", "type": "quantitative"},
        "y": {"field": "cur", "type": "quantitative"},
        "detail": {"field": "trace"}
      }
    },
    {
      "data": {"values": [{"pos": 0.0099, "val": 1.13}]},
      "mark": {"type": "text", "text": "Kv7.4\u00a0\u00a0Rat\u00a0\u00a0CHO\u00a0\u00a025\u00a0°C", "align": "left", "baseline": "alphabetic", "font": "DejaVu Sans", "fontSize": 22, "fontWeight": "bold", "color": "black"},
      "encoding": {
        "x": {"field": "pos", "type": "quantitative"},
        "y": {"field": "val", "type": "quantitative"}
      }
    },
    {
      "data": {"values": [{"pos": 0.7066, "val": 1.13}]},
      "mark": {"type": "text", "text": "Activation", "align": "right", "baseline": "alphabetic", "font": "DejaVu Sans", "fontSize": 22, "color": "black"},
      "encoding": {
        "x": {"field": "pos", "type": "quantitative"},
        "y": {"field": "val", "type": "quantitative"}
      }
    },
    {
      "data": {"values": [{"pos": 0.727, "val": 0.452}]},
      "mark": {"type": "text", "text": "BBP Channelpedia ID 25769 rep 3", "align": "center", "baseline": "alphabetic", "angle": 270, "font": "DejaVu Sans", "fontSize": 22, "color": "black"},
      "encoding": {
        "x": {"field": "pos", "type": "quantitative"},
        "y": {"field": "val", "type": "quantitative"}
      }
    }
  ],
  "config": {
    "view": {"stroke": null},
    "axis": {
      "grid": false,
      "domainColor": "#262626",
      "domainWidth": 1.2,
      "tickColor": "#262626",
      "tickWidth": 1.2,
      "tickSize": -8,
      "labelColor": "#262626",
      "titleColor": "#262626",
      "labelFont": "DejaVu Sans",
      "titleFont": "DejaVu Sans",
      "labelFontSize": 31,
      "titleFontSize": 31,
      "titleFontWeight": "normal"
    }
  }
}
